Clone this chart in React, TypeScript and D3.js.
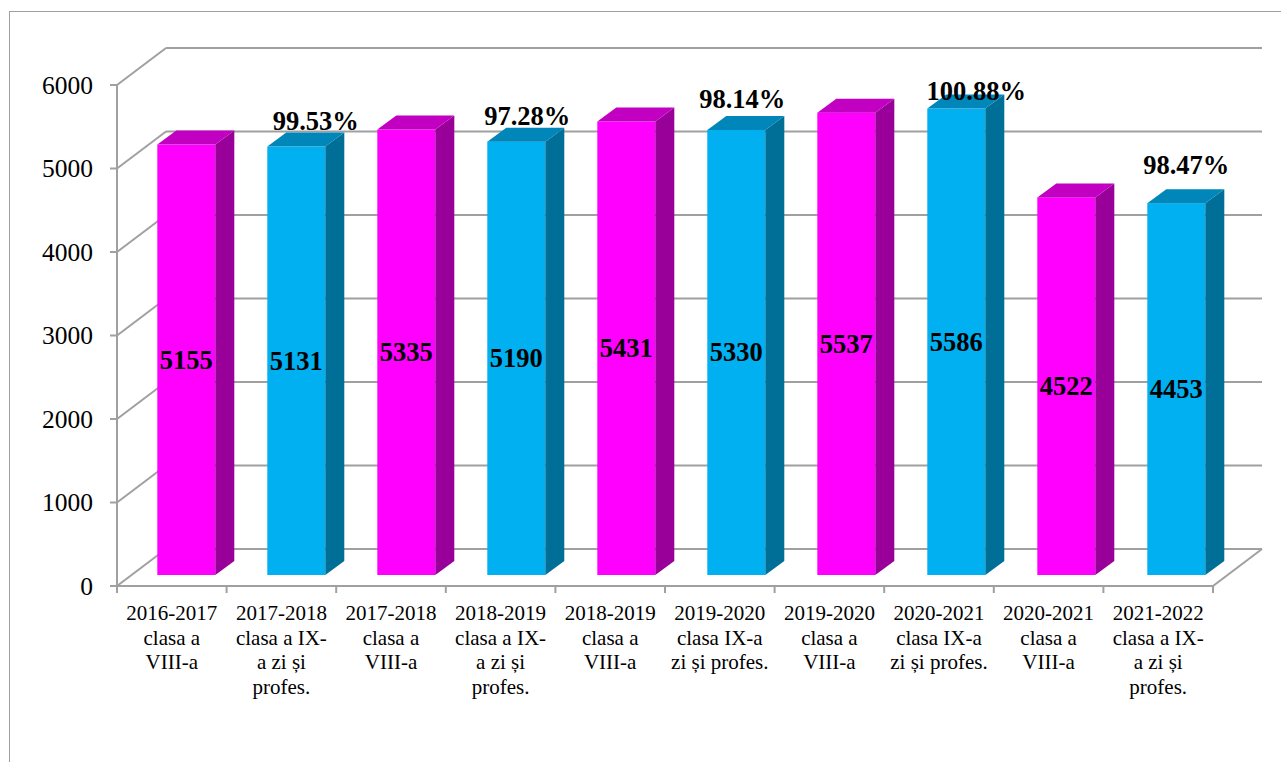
import React from 'react';
import * as d3 from 'd3';

const categories = [
  '2016-2017 clasa a VIII-a',
  '2017-2018 clasa a IX-a zi și profes.',
  '2017-2018 clasa a VIII-a',
  '2018-2019 clasa a IX-a zi și profes.',
  '2018-2019 clasa a VIII-a',
  '2019-2020 clasa IX-a zi și profes.',
  '2019-2020 clasa a VIII-a',
  '2020-2021 clasa IX-a zi și profes.',
  '2020-2021 clasa a VIII-a',
  '2021-2022 clasa a IX-a zi și profes.',
];
const labelLines = [
  ['2016-2017', 'clasa a', 'VIII-a'],
  ['2017-2018', 'clasa a IX-', 'a zi și', 'profes.'],
  ['2017-2018', 'clasa a', 'VIII-a'],
  ['2018-2019', 'clasa a IX-', 'a zi și', 'profes.'],
  ['2018-2019', 'clasa a', 'VIII-a'],
  ['2019-2020', 'clasa IX-a', 'zi și profes.'],
  ['2019-2020', 'clasa a', 'VIII-a'],
  ['2020-2021', 'clasa IX-a', 'zi și profes.'],
  ['2020-2021', 'clasa a', 'VIII-a'],
  ['2021-2022', 'clasa a IX-', 'a zi și', 'profes.'],
];
const values = [5155, 5131, 5335, 5190, 5431, 5330, 5537, 5586, 4522, 4453];
const series = ['VIII', 'IX', 'VIII', 'IX', 'VIII', 'IX', 'VIII', 'IX', 'VIII', 'IX'];
const percents = [null, '99.53%', null, '97.28%', null, '98.14%', null, '100.88%', null, '98.47%'];
const yTicks = [0, 1000, 2000, 3000, 4000, 5000, 6000];

// manual placement of the percentage labels (as in the original), [dx, dy]
const pctNudge: Record<number, [number, number]> = {
  1: [19.5, -2.5],
  3: [11, -3],
  5: [6, -7.5],
  7: [20, 5],
  9: [10, -15],
};

const palette: Record<string, { front: string; top: string; side: string }> = {
  VIII: { front: '#ff00ff', top: '#c200c2', side: '#990099' },
  IX: { front: '#00b0f0', top: '#0086b8', side: '#006f98' },
};

const W = 1281, H = 762;
const DX = 49, DY = -37; // depth of the 3D walls
const BAR_W = 58, BAR_DX = 19, BAR_DY = -14, BAR_OX = 14.3, BAR_OY = -11;
const GRID = '#a0a0a0';
const FONT = '"Liberation Serif", "Times New Roman", serif';

export default function App() {
  const x = d3.scaleBand<string>().domain(categories).range([117, 1213]);
  const xb = d3.scaleBand<string>().domain(categories).range([117, 1217]);
  const y = d3.scaleLinear().domain([0, 6000]).range([586, 85]);
  const x0 = 117, x1 = 1213;

  return (
    <svg width={W} height={H} style={{ position: 'absolute', left: 0, top: 0, background: '#fff' }}>
      <rect x={9.5} y={11.5} width={1300} height={800} fill="none" stroke={GRID} strokeWidth={1} />

      {/* walls and gridlines */}
      <g stroke={GRID} strokeWidth={2} fill="none">
        {yTicks.map((t) => (
          <g key={t}>
            <line x1={x0} y1={y(t)} x2={x0 + DX} y2={y(t) + DY} />
            <line x1={x0 + DX} y1={y(t) + DY} x2={x1 + DX} y2={y(t) + DY} />
            <line x1={x0 - 7} y1={y(t)} x2={x0} y2={y(t)} />
          </g>
        ))}
        <line x1={x0} y1={y(0)} x2={x1} y2={y(0)} />
        <line x1={x1} y1={y(0)} x2={x1 + DX} y2={y(0) + DY} />
        <line x1={x0} y1={y(6000)} x2={x0} y2={y(0)} />
        {categories.map((c) => (
          <line key={c} x1={x(c)!} y1={y(0)} x2={x(c)!} y2={y(0) + 7} />
        ))}
        <line x1={x1} y1={y(0)} x2={x1} y2={y(0) + 7} />
      </g>

      {/* bars */}
      {categories.map((c, i) => {
        const col = palette[series[i]];
        const cx = xb(c)! + xb.bandwidth() / 2 + BAR_OX;
        const l = cx - BAR_W / 2, r = cx + BAR_W / 2;
        const b = y(0) + BAR_OY;
        const t = y(values[i]) + BAR_OY;
        const nudge = pctNudge[i] || [BAR_DX, 0];
        return (
          <g key={c}>
            <rect x={l} y={t} width={BAR_W} height={b - t} fill={col.front} />
            <polygon
              points={`${r},${t} ${r + BAR_DX},${t + BAR_DY} ${r + BAR_DX},${b + BAR_DY} ${r},${b}`}
              fill={col.side}
            />
            <polygon
              points={`${l},${t} ${l + BAR_DX},${t + BAR_DY} ${r + BAR_DX},${t + BAR_DY} ${r},${t}`}
              fill={col.top}
            />
            <text
              x={cx}
              y={(t + b) / 2}
              textAnchor="middle"
              dominantBaseline="central"
              fontFamily={FONT}
              fontWeight="bold"
              fontSize={26.5}
              fill="#000"
            >
              {values[i]}
            </text>
            {percents[i] && (
              <text
                x={cx + nudge[0]}
                y={t + BAR_DY + nudge[1]}
                textAnchor="middle"
                fontFamily={FONT}
                fontWeight="bold"
                fontSize={26.5}
                fill="#000"
              >
                {percents[i]}
              </text>
            )}
          </g>
        );
      })}

      {/* y axis labels */}
      {yTicks.map((t) => (
        <text
          key={t}
          x={93}
          y={y(t)}
          textAnchor="end"
          dominantBaseline="central"
          fontFamily={FONT}
          fontSize={25.5}
          fill="#000"
        >
          {t}
        </text>
      ))}

      {/* category labels */}
      {categories.map((c, i) => (
        <text
          key={c}
          x={x(c)! + x.bandwidth() / 2}
          textAnchor="middle"
          fontFamily={FONT}
          fontSize={21}
          fill="#000"
        >
          {labelLines[i].map((ln, k) => (
            <tspan key={k} x={x(c)! + x.bandwidth() / 2} y={620 + k * 24.5}>
              {ln}
            </tspan>
          ))}
        </text>
      ))}
    </svg>
  );
}
